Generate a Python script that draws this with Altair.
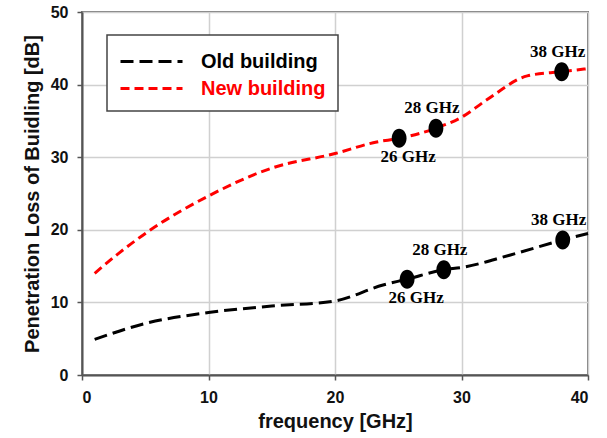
import altair as alt
import pandas as pd

# ---- data ----
new_x = [1, 3, 5.4, 10, 15, 20, 23.3, 25.07, 27.98, 30, 32, 35.2, 37.92, 40]
new_y = [14.0, 16.9, 19.97, 24.66, 28.5, 30.5, 32.1, 32.6, 34.0, 35.5, 37.9, 41.2, 41.78, 42.2]

old_x = [1, 5, 10, 15, 20, 23.8, 25.7, 28.6, 30, 33.8, 38, 40]
old_y = [4.9, 7.1, 8.6, 9.5, 10.2, 12.4, 13.2, 14.5, 14.8, 16.5, 18.6, 19.5]

marker_series = ["New building", "New building", "New building",
                 "Old building", "Old building", "Old building"]
marker_x = [25.07, 27.98, 37.92, 25.7, 28.6, 38.0]
marker_y = [32.6, 34.0, 41.78, 13.2, 14.5, 18.6]
marker_label = ["26 GHz", "28 GHz", "38 GHz", "26 GHz", "28 GHz", "38 GHz"]
marker_side = ["below", "above", "above", "below", "above", "above"]

series_names = ["Old building", "New building"]
series_colors = ["#000000", "#ff0000"]

lines = pd.DataFrame(
    [{"series": "Old building", "f": x, "loss": y} for x, y in zip(old_x, old_y)]
    + [{"series": "New building", "f": x, "loss": y} for x, y in zip(new_x, new_y)]
)
marks = pd.DataFrame({"series": marker_series, "f": marker_x, "loss": marker_y,
                      "label": marker_label, "side": marker_side})

x_enc = alt.X("f:Q", title="frequency [GHz]",
              scale=alt.Scale(domain=[0, 40], nice=False),
              axis=alt.Axis(values=[0, 10, 20, 30, 40], tickSize=5, labelPadding=9,
                            titlePadding=6))
y_enc = alt.Y("loss:Q", title="Penetration Loss of Buidling [dB]",
              scale=alt.Scale(domain=[0, 50], nice=False),
              axis=alt.Axis(values=[0, 10, 20, 30, 40, 50], tickSize=5, labelPadding=9,
                            titlePadding=8))


def make_legend():
    return alt.Legend(
        orient="none", legendX=25, legendY=23,
        symbolType="M-1,0H3.77", symbolSize=676, symbolStrokeWidth=3,
        labelFont="Liberation Sans", labelFontSize=20, labelFontWeight="bold",
        labelColor=alt.ExprRef("datum.label == 'New building' ? '#ff0000' : '#000000'"),
        labelOffset=53, rowPadding=2, padding=12,
        fillColor="white", labelLimit=300)


line_layer = alt.Chart(lines).mark_line(strokeWidth=3, interpolate="monotone").encode(
    x=x_enc,
    y=y_enc,
    color=alt.Color("series:N", title=None,
                    scale=alt.Scale(domain=series_names, range=series_colors),
                    legend=make_legend()),
    strokeDash=alt.StrokeDash("series:N", title=None,
                              scale=alt.Scale(domain=series_names, range=[[13, 6], [9, 5]]),
                              legend=make_legend()),
    order=alt.Order("f:Q"),
)

ellipse = "M-0.78,0 A0.78,1 0 1,0 0.78,0 A0.78,1 0 1,0 -0.78,0 Z"
point_layer = alt.Chart(marks).mark_point(shape=ellipse, filled=True, size=360,
                                          color="black", opacity=1).encode(x="f:Q", y="loss:Q")

text_above = alt.Chart(marks).transform_filter("datum.side == 'above'").mark_text(
    font="Liberation Serif", fontWeight="bold", fontSize=17, dy=-15, dx=-4,
    baseline="alphabetic", color="black").encode(x="f:Q", y="loss:Q", text="label:N")
text_below = alt.Chart(marks).transform_filter("datum.side == 'below'").mark_text(
    font="Liberation Serif", fontWeight="bold", fontSize=17, dy=24, dx=9,
    baseline="alphabetic", color="black").encode(x="f:Q", y="loss:Q", text="label:N")

chart = alt.layer(line_layer, point_layer, text_above, text_below).properties(
    width=506, height=363,
    background="white",
    autosize=alt.AutoSizeParams(type="none"),
    padding={"left": 82, "top": 12, "right": 19, "bottom": 63},
).configure_view(stroke="#777777", strokeWidth=2).configure_axis(
    labelFont="Liberation Sans", labelFontSize=16, labelFontWeight="bold", labelColor="#111111",
    titleFont="Liberation Sans", titleFontSize=20, titleFontWeight="bold", titleColor="#111111",
    gridColor="#d0d0d0", gridWidth=1.5, domainColor="#555555", domainWidth=2,
    tickColor="#555555", tickWidth=1.5,
).configure_legend(strokeColor="#444444", strokeWidth=1.5)

chart.save("out.html", embed_options={"renderer": "svg", "actions": False})
